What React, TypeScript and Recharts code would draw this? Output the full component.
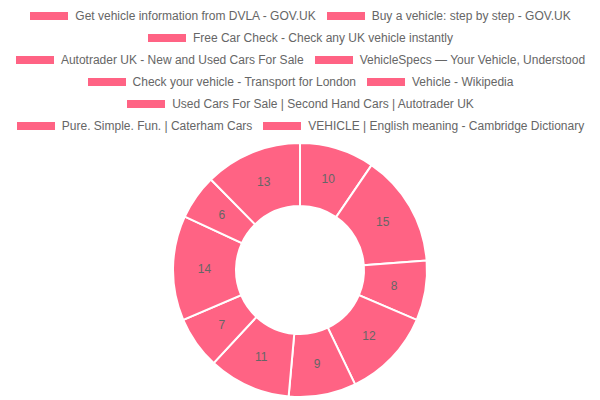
import { PieChart, Pie, Cell } from "recharts";

const labels = [
  "Get vehicle information from DVLA - GOV.UK",
  "Buy a vehicle: step by step - GOV.UK",
  "Free Car Check - Check any UK vehicle instantly",
  "Autotrader UK - New and Used Cars For Sale",
  "VehicleSpecs — Your Vehicle, Understood",
  "Check your vehicle - Transport for London",
  "Vehicle - Wikipedia",
  "Used Cars For Sale | Second Hand Cars | Autotrader UK",
  "Pure. Simple. Fun. | Caterham Cars",
  "VEHICLE | English meaning - Cambridge Dictionary",
];

const values = [10, 15, 8, 12, 9, 11, 7, 14, 6, 13];

const sliceColor = "#ff6384";
const textColor = "#666";
const font = "'Helvetica Neue', Helvetica, Arial, 'Liberation Sans', sans-serif";

const data = labels.map((name, i) => ({ name, value: values[i] }));

const RAD = Math.PI / 180;

const renderLabel = (props: any) => {
  const { cx, cy, midAngle, innerRadius, outerRadius, value } = props;
  const r = (innerRadius + outerRadius) / 2;
  const x = cx + r * Math.cos(-midAngle * RAD);
  const y = cy + r * Math.sin(-midAngle * RAD);
  return (
    <text
      x={x}
      y={y}
      fill={textColor}
      fontSize={12}
      fontFamily={font}
      textAnchor="middle"
      dominantBaseline="central"
    >
      {value}
    </text>
  );
};

export default function App() {
  return (
    <div
      style={{
        position: "absolute",
        left: 0,
        top: 0,
        width: 600,
        height: 400,
        background: "#fff",
        fontFamily: font,
      }}
    >
      <div
        style={{
          position: "absolute",
          left: 5,
          top: 5,
          width: 590,
          display: "flex",
          flexWrap: "wrap",
          justifyContent: "center",
        }}
      >
        {labels.map((l) => (
          <div
            key={l}
            style={{
              display: "flex",
              alignItems: "center",
              height: 22,
              margin: "0 5px",
              whiteSpace: "nowrap",
            }}
          >
            <span
              style={{
                display: "inline-block",
                width: 40,
                height: 10,
                background: sliceColor,
                border: "1px solid #fff",
                boxSizing: "border-box",
                marginRight: 6,
              }}
            />
            <span style={{ fontSize: 12, color: textColor }}>{l}</span>
          </div>
        ))}
      </div>
      <PieChart
        width={600}
        height={400}
        margin={{ top: 0, right: 0, bottom: 0, left: 0 }}
        style={{ position: "absolute", left: 0, top: 0 }}
      >
        <Pie
          data={data}
          dataKey="value"
          nameKey="name"
          cx={300}
          cy={270}
          innerRadius={64}
          outerRadius={127}
          startAngle={90}
          endAngle={-270}
          stroke="#fff"
          strokeWidth={2}
          label={renderLabel}
          labelLine={false}
          isAnimationActive={false}
        >
          {data.map((d) => (
            <Cell key={d.name} fill={sliceColor} />
          ))}
        </Pie>
      </PieChart>
    </div>
  );
}
